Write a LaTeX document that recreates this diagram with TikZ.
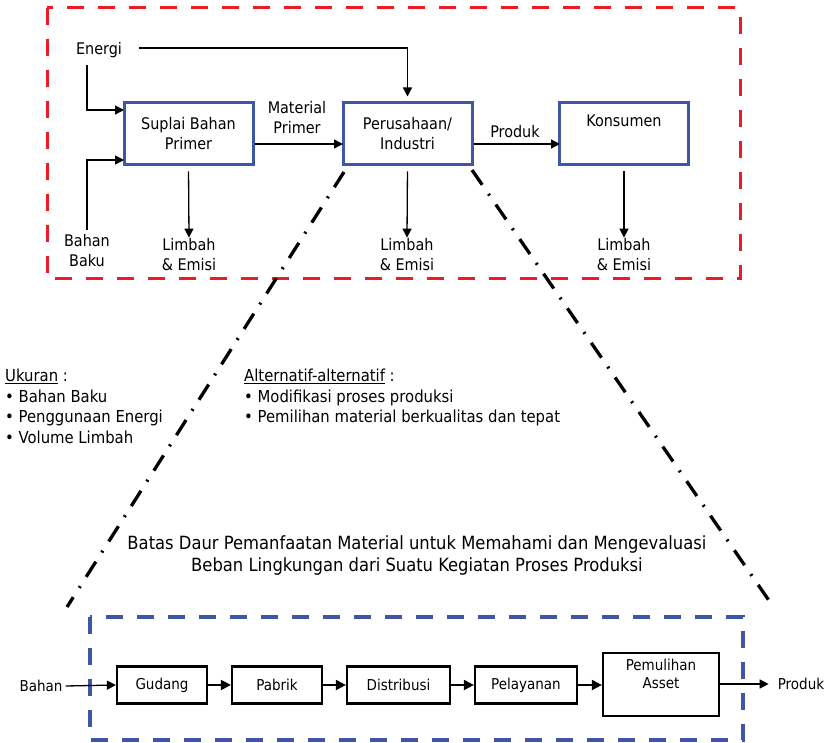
\documentclass[tikz,border=0pt]{standalone}
\usepackage{fontspec}
\setmainfont{DejaVu Sans Condensed}
\usetikzlibrary{arrows.meta,calc}
\definecolor{redd}{RGB}{237,28,36}
\definecolor{bluebox}{RGB}{63,85,165}
\begin{document}
\begin{tikzpicture}[x=1pt,y=-1pt,
  tip/.style={-{Triangle[length=9pt,width=9pt]}},
  conn/.style={line width=1.3pt,tip},
  bconn/.style={line width=2pt,-{Triangle[length=10pt,width=10pt]}},
  topbox/.style={draw=bluebox,line width=3pt,minimum width=129pt,minimum height=62pt,align=center,inner sep=0pt,font=\fontsize{16}{20}\selectfont},
  botbox/.style={draw=black,line width=2.2pt,minimum height=37pt,align=center,inner sep=0pt,font=\fontsize{15}{18}\selectfont},
  lbl/.style={align=center,inner sep=1pt,font=\fontsize{16}{20}\selectfont},
  lst/.style={align=left,anchor=north west,inner sep=0pt,font=\fontsize{16.5}{20.5}\selectfont},
  dd/.style={line width=3.3pt,dash pattern=on 18pt off 11pt on 2pt off 11pt}
]
\useasboundingbox (0,0) rectangle (825,743);
% red frame
\draw[redd,line width=3pt,dash pattern=on 17pt off 14pt] (47,8) rectangle (740,279);
% top boxes
\node[topbox] (sp) at (188.5,134) {Suplai Bahan\\Primer};
\node[topbox] (pi) at (407.5,134) {Perusahaan/\\Industri};
\node[topbox] (ko) at (624,134) {Konsumen\\\strut};
% labels
\node[lbl] (en) at (99,50) {Energi};
\node[lbl] (bb) at (87,251) {Bahan\\Baku};
\node[lbl] (mp) at (297,118) {Material\\Primer};
\node[lbl] (pr) at (515,132) {Produk};
\node[lbl] (l1) at (189,255) {Limbah\\\& Emisi};
\node[lbl] (l2) at (407,255) {Limbah\\\& Emisi};
\node[lbl] (l3) at (624,255) {Limbah\\\& Emisi};
% coordinates
\coordinate (e1) at (139,48);
\coordinate (ev) at (87,65);
\coordinate (s1) at (124,110);
\coordinate (bv) at (87,230);
\coordinate (s2) at (124,160);
\coordinate (pin) at (343,144);
\coordinate (kin) at (560,144);
% connectors
\draw[conn,shorten >=5pt] (e1) -| (pi.north);
\draw[conn] (ev) |- (s1);
\draw[conn] (bv) |- (s2);
\draw[conn] (sp.east |- pin) -- (pin);
\draw[conn] (pi.east |- kin) -- (kin);
\draw[conn,shorten <=5pt] (sp.south) -- (l1.north);
\draw[conn,shorten <=5pt] (pi.south) -- (l2.north);
\draw[conn,shorten <=5pt] (ko.south) -- (l3.north);
% dash-dot funnel lines
\coordinate (f1) at (344,172);
\coordinate (f2) at (67,607);
\coordinate (f3) at (472,170);
\coordinate (f4) at (770,602);
\draw[dd] (f1) -- (f2);
\draw[dd] (f3) -- (f4);
% lists
\node[lst] (uk) at (5,369) {\underline{Ukuran} :\\• Bahan Baku\\• Penggunaan Energi\\• Volume Limbah};
\node[lst] (al) at (244,369) {\underline{Alternatif-alternatif} :\\• Modifikasi proses produksi\\• Pemilihan material berkualitas dan tepat};
% caption
\node[align=center,font=\fontsize{18.2}{22}\selectfont] (cap) at (417,555) {Batas Daur Pemanfaatan Material untuk Memahami dan Mengevaluasi\\Beban Lingkungan dari Suatu Kegiatan Proses Produksi};
% blue frame
\draw[bluebox,line width=3.5pt,dash pattern=on 17pt off 14pt] (90,617) rectangle (743,740);
% bottom boxes
\node[botbox,minimum width=90pt] (gd) at (162,685) {Gudang};
\node[botbox,minimum width=90pt] (pb) at (277,685) {Pabrik};
\node[botbox,minimum width=103pt] (ds) at (398.5,685) {Distribusi};
\node[botbox,minimum width=102pt] (pl) at (526,685) {Pelayanan};
\node[botbox,minimum width=116pt,minimum height=63pt] (pa) at (661,684.5) {Pemulihan\\Asset\\[4pt]};
\node[font=\fontsize{15}{18}\selectfont,inner sep=1pt] (bh) at (41,686) {Bahan};
\node[font=\fontsize{15}{18}\selectfont,inner sep=1pt] (pd) at (801,684) {Produk};
\draw[conn] (bh.east) ++(2,0) coordinate (bhs) (bhs) -- (gd.west);
\draw[bconn] (gd) -- (pb);
\draw[bconn] (pb) -- (ds);
\draw[bconn] (ds) -- (pl);
\draw[bconn] (pl) -- (pa.west |- pl);
\draw[conn,shorten >=8pt] (pa.east |- pd) -- (pd.west);
\end{tikzpicture}
\end{document}
